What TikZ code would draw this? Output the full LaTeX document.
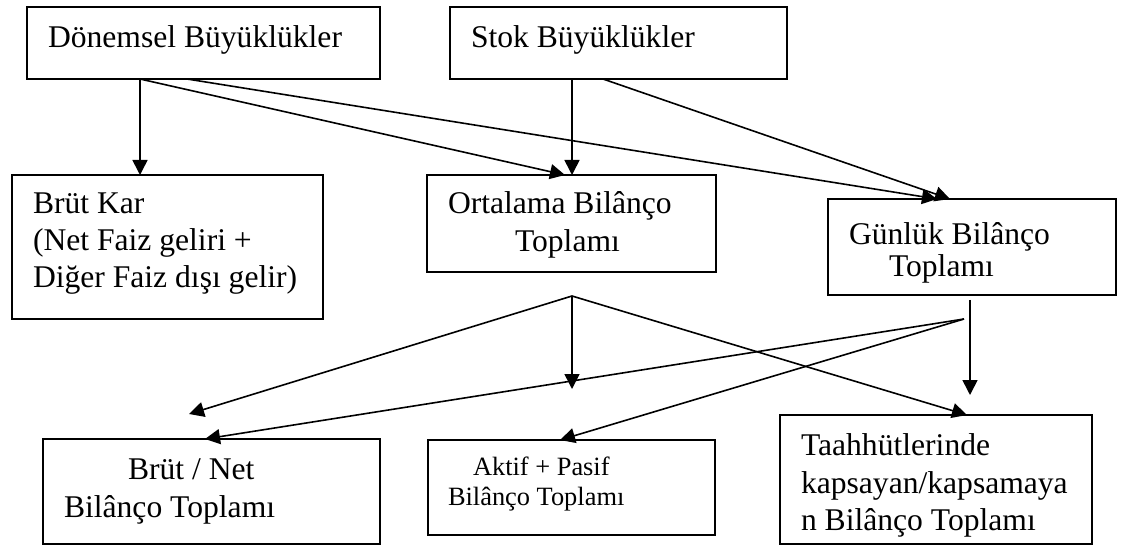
\documentclass[tikz,border=0pt]{standalone}
\usepackage{fontspec}
\setmainfont{Liberation Serif}
\usetikzlibrary{arrows.meta}
\begin{document}
\begin{tikzpicture}[x=1pt,y=-1pt,
  box/.style={draw, line width=1.7pt, rectangle, inner sep=0pt, outer sep=0pt},
  txt/.style={anchor=base west, inner sep=0pt, outer sep=0pt, font=\fontsize{31.6}{37}\selectfont},
  smalltxt/.style={txt, font=\fontsize{26.4}{30}\selectfont},
  arr/.style={line width=1.6pt, -{Triangle[length=15pt,width=15pt]}}]
\useasboundingbox (0,0) rectangle (1130,545);
% boxes
\node[box, minimum width=353pt, minimum height=72pt] (d) at (203.5,43) {};
\node[box, minimum width=337pt, minimum height=72pt] (s) at (618.5,43) {};
\node[box, minimum width=311pt, minimum height=144pt] (bk) at (167.5,247) {};
\node[box, minimum width=289pt, minimum height=97pt] (o) at (571.5,223.5) {};
\node[box, minimum width=288pt, minimum height=96pt] (g) at (972,247) {};
\node[box, minimum width=337pt, minimum height=105pt] (bn) at (211.5,491.5) {};
\node[box, minimum width=287pt, minimum height=95pt] (a) at (571.5,487.5) {};
\node[box, minimum width=312pt, minimum height=129pt] (t) at (936,479.5) {};
% texts
\node[txt] (dt) at (48,48) {Dönemsel Büyüklükler};
\node[txt] (st) at (471,48) {Stok Büyüklükler};
\node[txt] (bkt1) at (33,214) {Brüt Kar};
\node[txt] (bkt2) at (33,251) {(Net Faiz geliri +};
\node[txt] (bkt3) at (33,288) {Diğer Faiz dışı gelir)};
\node[txt] (ot1) at (448,214) {Ortalama Bilânço};
\node[txt] (ot2) at (515,252) {Toplamı};
\node[txt] (gt1) at (849,245) {Günlük Bilânço};
\node[txt] (gt2) at (889,277) {Toplamı};
\node[txt] (bnt1) at (128,479) {Brüt / Net};
\node[txt] (bnt2) at (64,517) {Bilânço Toplamı};
\node[smalltxt] (at1) at (473,475) {Aktif + Pasif};
\node[smalltxt] (at2) at (448,505) {Bilânço Toplamı};
\node[txt] (tt1) at (801,455) {Taahhütlerinde};
\node[txt] (tt2) at (801,493) {kapsayan/kapsamaya};
\node[txt] (tt3) at (801,530) {n Bilânço Toplamı};
% free points
\coordinate (oa) at (572,296);
\coordinate (otip1) at (189,414);
\coordinate (otip2) at (572,389);
\coordinate (gv) at (970,300);
\coordinate (gtip) at (970,395);
\coordinate (ga) at (964,319);
% connectors
\draw[arr] ([xshift=113pt]d.south west) -- ([xshift=128pt]bk.north west);
\draw[arr] ([xshift=113pt]d.south west) -- ([xshift=138pt]o.north west);
\draw[arr] ([xshift=160pt]d.south west) -- ([xshift=109pt]g.north west);
\draw[arr] ([xshift=122pt]s.south west) -- ([xshift=145pt]o.north west);
\draw[arr] ([xshift=153pt]s.south west) -- ([xshift=122pt]g.north west);
\draw[arr] (oa) -- (otip1);
\draw[arr] (oa) -- (otip2);
\draw[arr] (oa) -- ([xshift=187pt]t.north west);
\draw[arr] (gv) -- (gtip);
\draw[arr] (ga) -- ([xshift=162pt]bn.north west);
\draw[arr] (ga) -- ([xshift=132pt]a.north west);
\end{tikzpicture}
\end{document}
